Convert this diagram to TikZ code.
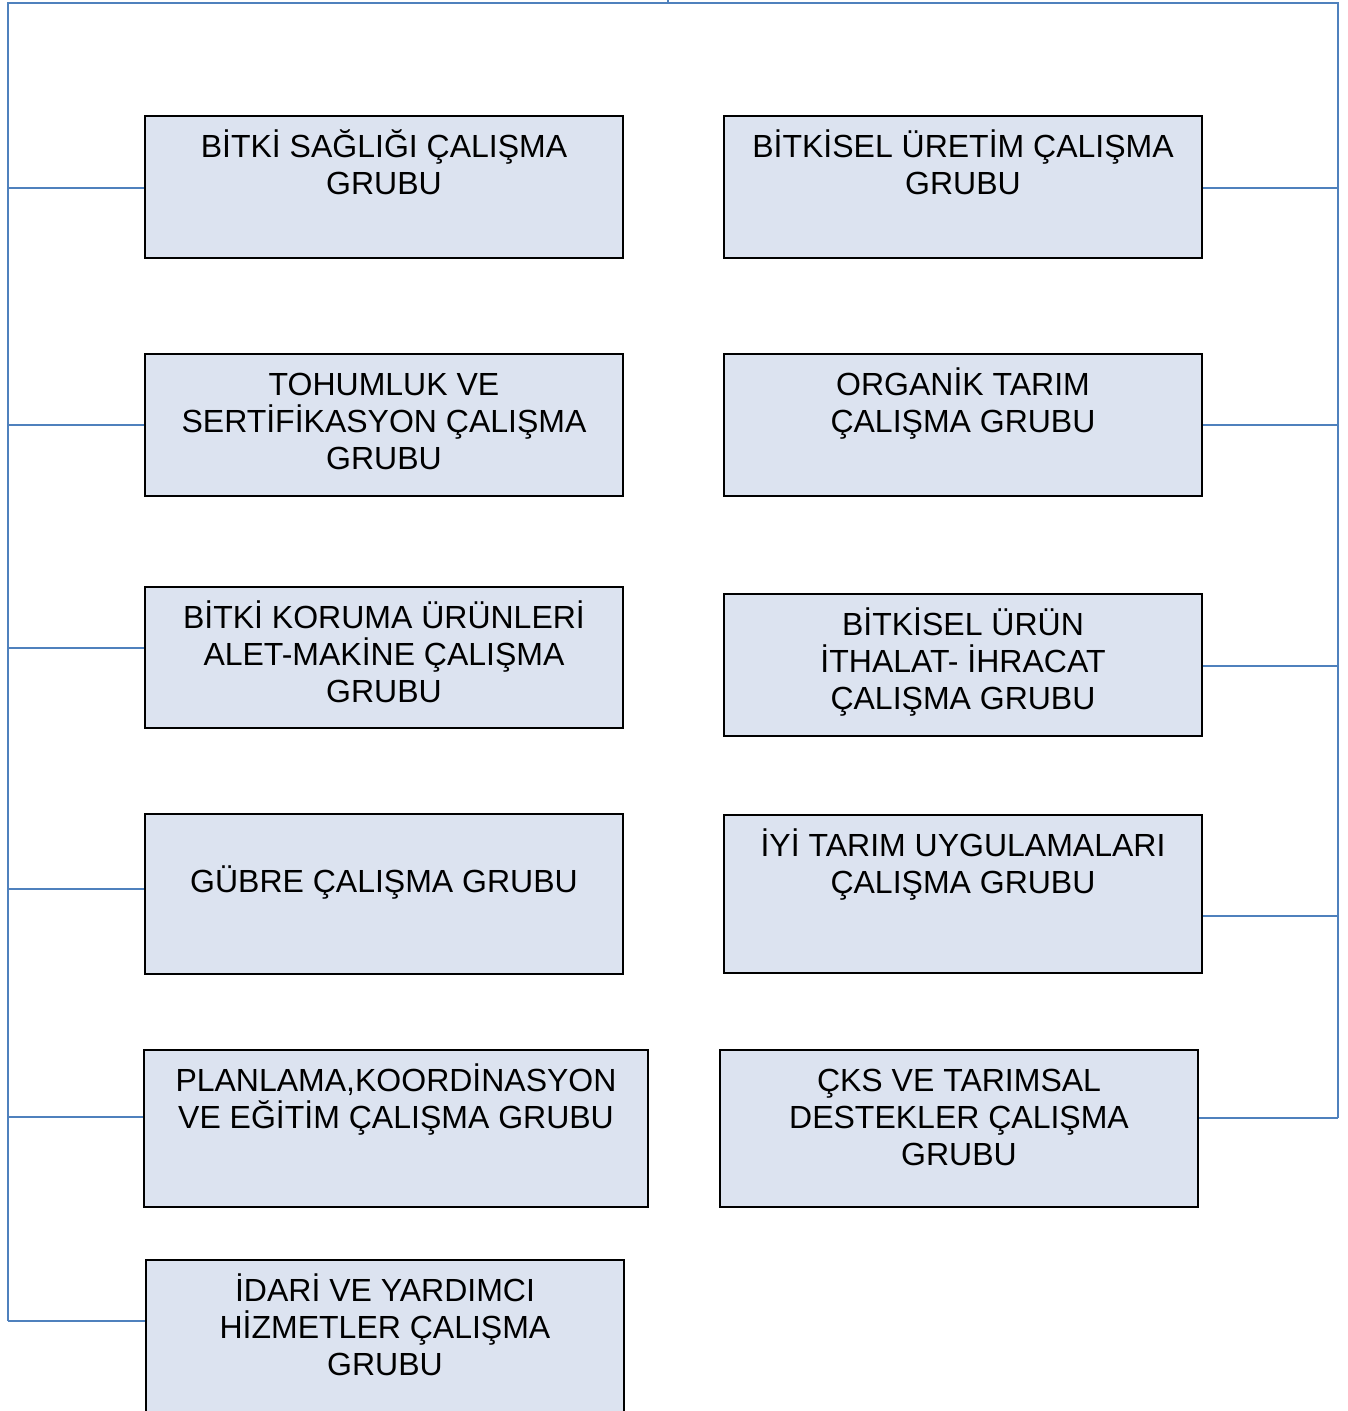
\documentclass[tikz,border=0pt]{standalone}
\usepackage{fontspec}
\setmainfont{Liberation Sans}
\usetikzlibrary{positioning}
\definecolor{boxfill}{HTML}{DCE3F0}
\definecolor{busblue}{HTML}{4F81BD}
\newlength{\pxu}
\setlength{\pxu}{0.75pt}
% box text: [first line strut]{width}{height}{text}
\newcommand{\grptext}[4][31pt]{\parbox[c][#3\pxu][t]{#2\pxu}{\centering\fontsize{24}{27.75}\selectfont\rule{0pt}{#1}#4}}
\tikzset{
  grp/.style={draw=black, line width=1.5pt, fill=boxfill, inner sep=0pt},
  bus/.style={draw=busblue, line width=1.5pt}
}

\begin{document}
\begin{tikzpicture}[x=0.75pt, y=-0.75pt]
\useasboundingbox (0,0) rectangle (1348,1411);
\clip (0,0) rectangle (1348,1411);
% left column
\node[grp] (l1) at (384,187) {\grptext{478}{142}{BİTKİ SAĞLIĞI ÇALIŞMA\\GRUBU}};
\node[grp] (l2) at (384,425) {\grptext{478}{142}{TOHUMLUK VE\\SERTİFİKASYON ÇALIŞMA\\GRUBU}};
\node[grp] (l3) at (384,657.5) {\grptext{478}{141}{BİTKİ KORUMA ÜRÜNLERİ\\ALET-MAKİNE ÇALIŞMA\\GRUBU}};
\node[grp] (l4) at (384,894) {\grptext[59pt]{478}{160}{GÜBRE ÇALIŞMA GRUBU}};
\node[grp] (l5) at (396,1128.5) {\grptext{504}{157}{PLANLAMA,KOORDİNASYON\\VE EĞİTİM ÇALIŞMA GRUBU}};
\node[grp] (l6) at (385,1350) {\grptext{478}{180}{İDARİ VE YARDIMCI\\HİZMETLER ÇALIŞMA\\GRUBU}};
% right column
\node[grp] (r1) at (963,187) {\grptext{478}{142}{BİTKİSEL ÜRETİM ÇALIŞMA\\GRUBU}};
\node[grp] (r2) at (963,425) {\grptext{478}{142}{ORGANİK TARIM\\ÇALIŞMA GRUBU}};
\node[grp] (r3) at (963,665) {\grptext{478}{142}{BİTKİSEL ÜRÜN\\İTHALAT- İHRACAT\\ÇALIŞMA GRUBU}};
\node[grp] (r4) at (963,894) {\grptext{478}{158}{İYİ TARIM UYGULAMALARI\\ÇALIŞMA GRUBU}};
\node[grp] (r5) at (959,1128.5) {\grptext{478}{157}{ÇKS VE TARIMSAL\\DESTEKLER ÇALIŞMA\\GRUBU}};
% bus lines
\coordinate (top) at (668,0);
\coordinate (tl) at (8,3);
\coordinate (tr) at (1338,3);
\draw[bus] (top) -- (top |- tl);
\draw[bus] (8,1321) -- (tl) -- (tr) -- (1338,1118);
\foreach \n/\y in {l1/188,l2/425,l3/648,l4/889,l5/1117,l6/1321}
  \draw[bus] (\n.west |- 0,\y) -- (8,\y);
\foreach \n/\y in {r1/188,r2/425,r3/666,r4/916,r5/1118}
  \draw[bus] (\n.east |- 0,\y) -- (1338,\y);
\end{tikzpicture}
\end{document}
